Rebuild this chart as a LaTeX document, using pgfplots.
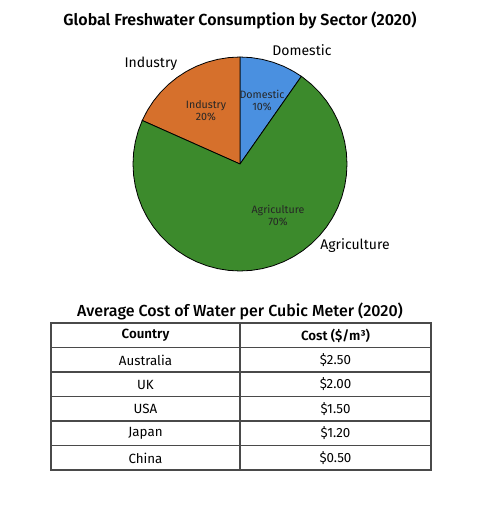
\documentclass[border=0pt]{standalone}
\usepackage{pgfplots}
\pgfplotsset{compat=1.18}
\usepackage{fontspec}
\setmainfont{Fira Sans}[BoldFont={* SemiBold}]
\newfontfamily\medfont{Fira Sans Medium}
\definecolor{cDom}{HTML}{4A90E0}
\definecolor{cInd}{HTML}{D6702C}
\definecolor{cAgr}{HTML}{3C8A2C}
\definecolor{cGrid}{HTML}{4A4A4A}
\begin{document}
\begin{tikzpicture}
\useasboundingbox (0,0) rectangle (360pt,384pt);
\begin{axis}[
  at={(99.75pt,180.75pt)}, anchor=south west,
  scale only axis, width=160.5pt, height=160.5pt,
  xmin=-1, xmax=1, ymin=-1, ymax=1,
  hide axis, clip=false,
]
% Domestic 10%
\addplot[fill=cDom, draw=black, line width=0.6pt, data cs=polar] coordinates {
 (0,0) (55,1) (60,1) (66,1) (72,1) (78,1) (84,1) (90,1) (0,0)} -- cycle;
% Industry 20%
\addplot[fill=cInd, draw=black, line width=0.6pt, data cs=polar] coordinates {
 (0,0) (90,1) (96,1) (102,1) (108,1) (114,1) (120,1) (126,1) (132,1) (138,1) (144,1) (150,1) (156,1) (0,0)} -- cycle;
% Agriculture 70%
\addplot[fill=cAgr, draw=black, line width=0.6pt, data cs=polar] coordinates {
 (0,0) (156,1) (162,1) (168,1) (174,1) (180,1) (186,1) (192,1) (198,1) (204,1) (210,1)
 (216,1) (222,1) (228,1) (234,1) (240,1) (246,1) (252,1) (258,1) (264,1) (270,1)
 (276,1) (282,1) (288,1) (294,1) (300,1) (306,1) (312,1) (318,1) (324,1) (330,1)
 (336,1) (342,1) (348,1) (354,1) (360,1) (366,1) (372,1) (378,1) (384,1) (390,1)
 (396,1) (402,1) (408,1) (414,1) (415,1) (0,0)} -- cycle;
\node[font=\fontsize{10.5}{12}\selectfont] at (axis cs:-0.832,0.935) {Industry};
\node[font=\fontsize{10.5}{12}\selectfont] at (axis cs:0.579,1.065) {Domestic};
\node[font=\fontsize{10.5}{12}\selectfont] at (axis cs:1.075,-0.766) {Agriculture};
\node[font=\fontsize{8}{9}\selectfont, align=center, text=black!85] at (axis cs:-0.318,0.495) {Industry\\20\%};
\node[font=\fontsize{8}{9}\selectfont, align=center, text=black!85] at (axis cs:0.206,0.598) {Domestic\\10\%};
\node[font=\fontsize{8}{9}\selectfont, align=center, text=black!85] at (axis cs:0.355,-0.477) {Agriculture\\70\%};
\end{axis}
\begin{scope}[x=0.75pt, y=-0.75pt, shift={(0,384pt)}]
\node[font=\bfseries\fontsize{12}{14}\selectfont] at (240,20) {Global Freshwater Consumption by Sector (2020)};
\node[font=\medfont\fontsize{12}{14}\selectfont] at (240,311) {Average Cost of Water per Cubic Meter (2020)};
\draw[cGrid, line width=0.9pt] (51,323) rectangle (431,470);
\draw[cGrid, line width=0.9pt] (240,323) -- (240,470);
\foreach \yy in {347.5,372,396.5,421,445.5} \draw[cGrid, line width=0.9pt] (51,\yy) -- (431,\yy);
\begin{scope}[every node/.style={font=\fontsize{10}{12}\selectfont}]
\node[font=\bfseries\fontsize{10}{12}\selectfont] at (145.5,335.5) {Country};
\node[font=\bfseries\fontsize{10}{12}\selectfont] at (335.5,335.5) {Cost (\$/m³)};
\node at (145.5,360) {Australia}; \node at (335.5,360) {\$2.50};
\node at (145.5,384.5) {UK};       \node at (335.5,384.5) {\$2.00};
\node at (145.5,409) {USA};        \node at (335.5,409) {\$1.50};
\node at (145.5,433.5) {Japan};    \node at (335.5,433.5) {\$1.20};
\node at (145.5,458) {China};      \node at (335.5,458) {\$0.50};
\end{scope}
\end{scope}
\end{tikzpicture}
\end{document}
